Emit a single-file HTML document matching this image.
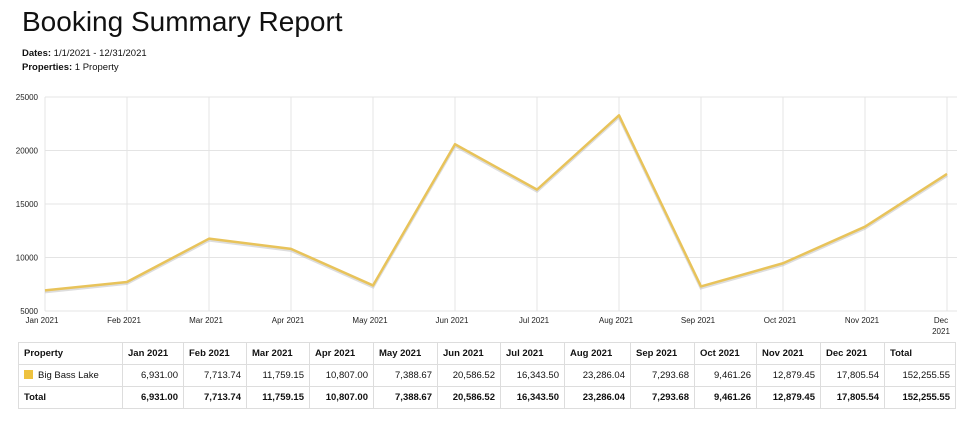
<!DOCTYPE html>
<html><head><meta charset="utf-8"><style>
body{margin:0;width:962px;height:426px;background:#fff;font-family:"Liberation Sans",Arial,sans-serif;position:relative;overflow:hidden}
h1{position:absolute;left:22px;top:6px;margin:0;font-size:28px;font-weight:normal;color:#111}
.meta{position:absolute;left:22px;font-size:9.5px;color:#111}
table{position:absolute;left:18px;top:342px;border-collapse:collapse;font-size:9.5px;table-layout:fixed;width:937px}
td,th{border:1px solid #ddd;height:21px;padding:0 5px;color:#111}
th{text-align:left;font-weight:bold}
td{text-align:right}
.tot td{font-weight:bold}
.sw{display:inline-block;width:9px;height:9px;background:#eec23f;margin-right:5px;vertical-align:-1px}
</style></head><body>
<h1>Booking Summary Report</h1>
<div class="meta" style="top:48px"><b>Dates:</b> 1/1/2021 - 12/31/2021</div>
<div class="meta" style="top:62px"><b>Properties:</b> 1 Property</div>
<svg id="chart" width="962" height="340" style="position:absolute;left:0;top:0"></svg>
<table>
<colgroup><col style="width:104px"><col style="width:61px"><col style="width:63px"><col style="width:63px"><col style="width:64px"><col style="width:64px"><col style="width:63px"><col style="width:64px"><col style="width:66px"><col style="width:64px"><col style="width:62px"><col style="width:64px"><col style="width:64px"><col style="width:71px"></colgroup>
<tr><th>Property</th><th>Jan 2021</th><th>Feb 2021</th><th>Mar 2021</th><th>Apr 2021</th><th>May 2021</th><th>Jun 2021</th><th>Jul 2021</th><th>Aug 2021</th><th>Sep 2021</th><th>Oct 2021</th><th>Nov 2021</th><th>Dec 2021</th><th>Total</th></tr>
<tr><td style="text-align:left"><span class="sw"></span>Big Bass Lake</td><td>6,931.00</td><td>7,713.74</td><td>11,759.15</td><td>10,807.00</td><td>7,388.67</td><td>20,586.52</td><td>16,343.50</td><td>23,286.04</td><td>7,293.68</td><td>9,461.26</td><td>12,879.45</td><td>17,805.54</td><td>152,255.55</td></tr>
<tr class="tot"><td style="text-align:left">Total</td><td>6,931.00</td><td>7,713.74</td><td>11,759.15</td><td>10,807.00</td><td>7,388.67</td><td>20,586.52</td><td>16,343.50</td><td>23,286.04</td><td>7,293.68</td><td>9,461.26</td><td>12,879.45</td><td>17,805.54</td><td>152,255.55</td></tr>
</table>
<script>
const categories=["Jan 2021","Feb 2021","Mar 2021","Apr 2021","May 2021","Jun 2021","Jul 2021","Aug 2021","Sep 2021","Oct 2021","Nov 2021","Dec 2021"];
const values=[6931.00,7713.74,11759.15,10807.00,7388.67,20586.52,16343.50,23286.04,7293.68,9461.26,12879.45,17805.54];
const yTicks=[5000,10000,15000,20000,25000];
const svg=document.getElementById('chart');const NS='http://www.w3.org/2000/svg';
const x0=45,x1=947,y0=311,y1=97,ymin=5000,ymax=25000;
const xs=i=>x0+i*(x1-x0)/(categories.length-1);
const ys=v=>y0-(v-ymin)/(ymax-ymin)*(y0-y1);
function mk(t,a){const e=document.createElementNS(NS,t);for(const k in a)e.setAttribute(k,a[k]);svg.appendChild(e);return e;}
yTicks.forEach(v=>{const g=mk('line',{x1:x0,x2:x1+10,y1:ys(v),y2:ys(v),stroke:'#e4e4e4'});


const t=mk('text',{x:38,y:ys(v)+3,'text-anchor':'end','font-size':'8','fill':'#222'});t.textContent=v;

});
categories.forEach((c,i)=>{const g=mk('line',{x1:xs(i),x2:xs(i),y1:y1,y2:y0,stroke:'#e4e4e4'});


const last=i===categories.length-1;
const t=mk('text',{x:last?xs(i)-6:xs(i)-3,y:y0+12,'text-anchor':'middle','font-size':'8','fill':'#222'});
if(last){t.textContent='Dec';const t2=mk('text',{x:xs(i)-6,y:y0+23,'text-anchor':'middle','font-size':'8','fill':'#222'});t2.textContent='2021';}
else t.textContent=c;

});
const pts=values.map((v,i)=>xs(i)+','+ys(v)).join(' ');
const sh=mk('polyline',{points:pts,fill:'none',stroke:'#bbb','stroke-width':'3',transform:'translate(0,1.5)',opacity:'0.5'});


const ln=mk('polyline',{points:pts,fill:'none',stroke:'#e8c35a','stroke-width':'2.5','stroke-linejoin':'round'});


</script>
</body></html>
